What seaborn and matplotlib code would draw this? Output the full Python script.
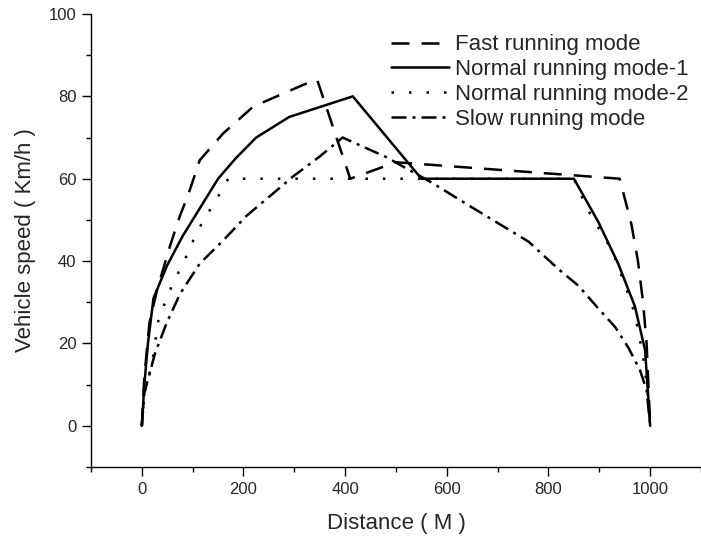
import pandas as pd
import seaborn as sns
import matplotlib.pyplot as plt
from matplotlib.ticker import MultipleLocator

# Dados (distância em m, velocidade em km/h)
fast_x = [0, 5, 15, 30, 55, 75, 91, 114, 160, 219, 284, 333, 345, 410, 500, 940, 963, 976, 986, 993, 1000]
fast_y = [0, 12, 25, 33, 43.5, 51, 56, 64.5, 71, 77.5, 81, 83.6, 84, 60, 64, 60, 49, 40, 30, 20, 0]

normal1_x = [0, 5, 12, 23, 50, 80, 120, 150, 185, 225, 290, 415, 550, 850, 898, 937, 970, 990, 1000]
normal1_y = [0, 10, 20, 31, 39, 46, 54, 60, 65, 70, 75, 80, 60, 60, 49.5, 39.4, 29, 18.4, 0]

normal2_x = [0, 5, 20, 33, 59, 75, 91, 108, 127, 147, 170, 550, 850, 875, 895, 915, 931, 957, 970, 986, 996, 1000]
normal2_y = [0, 8, 15, 26, 34, 38, 42, 47, 51, 55, 60, 60, 60, 53, 48.7, 44.7, 40.7, 32, 27, 17, 7, 0]

slow_x = [0, 5, 26, 49, 75, 114, 160, 206, 258, 297, 349, 395, 480, 571, 650, 761, 820, 859, 898, 931, 957, 980, 993, 1000]
slow_y = [0, 8, 17.6, 25, 32, 39.4, 45, 51, 56.4, 60.5, 65.3, 70, 65.3, 59, 53, 44.7, 38, 34, 28.5, 24, 19, 13.5, 8.7, 0]

modos = ["Fast running mode", "Normal running mode-1", "Normal running mode-2", "Slow running mode"]

# Montando o dataframe longo
frames = []
for nome, xs, ys in zip(modos, [fast_x, normal1_x, normal2_x, slow_x], [fast_y, normal1_y, normal2_y, slow_y]):
    frames.append(pd.DataFrame({"dist": xs, "vel": ys, "modo": nome}))
df = pd.concat(frames, ignore_index=True)

sns.set_style("ticks")
plt.rcParams["font.family"] = ["Liberation Sans", "DejaVu Sans"]

fig = plt.figure(figsize=(7.01, 5.4), dpi=100)
ax = fig.add_axes([0.1298, 0.1352, 0.8702, 0.8389])

tracos = {
    "Fast running mode": (7.2, 4.8),
    "Normal running mode-1": "",
    "Normal running mode-2": (1, 6),
    "Slow running mode": (6, 2.4, 1.2, 2.4),
}
sns.lineplot(data=df, x="dist", y="vel", style="modo", style_order=modos, dashes=tracos,
             color="black", linewidth=1.8, sort=False, estimator=None, ax=ax)

ax.set_xlim(-100, 1100)
ax.set_ylim(-10, 100)
ax.set_xticks(range(0, 1001, 200))
ax.set_yticks(range(0, 101, 20))
ax.xaxis.set_minor_locator(MultipleLocator(100))
ax.yaxis.set_minor_locator(MultipleLocator(10))
ax.tick_params(which="major", length=6.5, width=1, labelsize=12, pad=4, color="black")
ax.tick_params(which="minor", length=3.5, width=1, color="black")
for s in ["left", "bottom"]:
    ax.spines[s].set_linewidth(1)
    ax.spines[s].set_color("black")
sns.despine(ax=ax)

ax.set_xlabel("Distance ( M )", fontsize=16, labelpad=12)
ax.set_ylabel("Vehicle speed ( Km/h )", fontsize=16, labelpad=9)

handles, labels = ax.get_legend_handles_labels()
ax.legend(handles, labels, loc="upper left", bbox_to_anchor=(0.542, 0.957),
          bbox_transform=fig.transFigure, frameon=False, fontsize=16,
          handlelength=2.6, handletextpad=0.3, labelspacing=0.17, borderpad=0)

fig.savefig("out.png", dpi=100)
